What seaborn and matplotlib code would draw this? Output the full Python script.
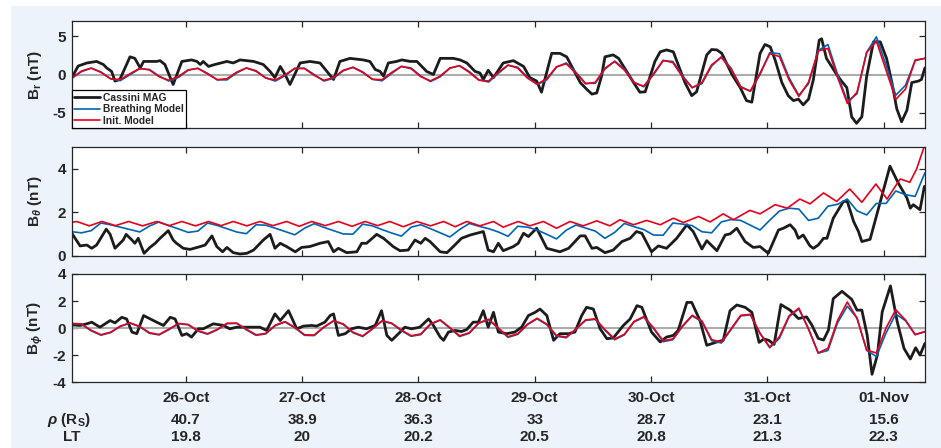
import numpy as np
import matplotlib
matplotlib.use("Agg")
import matplotlib.pyplot as plt
import matplotlib.transforms as mtransforms
from matplotlib.patches import Rectangle
import seaborn as sns

# time axis: hours since 25-Oct 00:00
DAY_TICKS = [24, 48, 72, 96, 120, 144, 168]
DAY_LABELS = ["26-Oct", "27-Oct", "28-Oct", "29-Oct", "30-Oct", "31-Oct", "01-Nov"]
RHO = ["40.7", "38.9", "36.3", "33", "28.7", "23.1", "15.6"]
LT = ["19.8", "20", "20.2", "20.5", "20.8", "21.3", "22.3"]

# model output, sampled every 2 h
MODEL_H = np.arange(0.5, 177.0, 2.0)

BR_INIT = [-0.43, 0.45, 0.84, 0.28, -0.57, -0.66, 0.10, 0.80, 0.59, -0.28,
           -0.75, -0.25, 0.61, 0.79, 0.07, -0.67, -0.55, 0.30, 0.85, 0.42,
           -0.45, -0.72, -0.04, 0.81, 0.77, -0.11, -0.76, -0.39, 0.55, 0.92,
           0.27, -0.62, -0.68, 0.27, 1.06, 0.75, -0.29, -0.83, -0.20, 0.85,
           1.13, 0.28, -0.75, -0.84, 0.28, 1.23, 0.83, -0.47, -1.26, -0.53,
           1.01, 1.40, 0.16, -1.21, -1.02, 0.83, 1.68, 0.58, -1.09, -1.52,
           0.09, 1.84, 1.55, -0.31, -1.73, -1.03, 1.26, 2.22, 0.66, -1.66,
           -2.14, 0.19, 2.71, 2.34, -0.72, -2.86, -1.00, 3.06, 3.39, -0.39,
           -3.76, -2.31, 2.88, 4.34, 0.55, -3.24, -1.90, 1.88, 2.10]
BR_BREATH = [-0.50, 0.38, 0.82, 0.34, -0.55, -0.80, -0.02, 0.75, 0.66, -0.20,
             -0.85, -0.38, 0.55, 0.82, 0.15, -0.70, -0.70, 0.20, 0.85, 0.50,
             -0.45, -0.85, -0.15, 0.78, 0.82, 0.00, -0.85, -0.50, 0.48, 0.95,
             0.35, -0.62, -0.82, 0.15, 1.05, 0.85, -0.20, -0.92, -0.30, 0.82,
             1.15, 0.38, -0.70, -0.98, 0.15, 1.20, 0.95, -0.35, -1.30, -0.70,
             0.95, 1.50, 0.30, -1.15, -1.15, 0.70, 1.75, 0.70, -1.00, -1.60,
             -0.05, 1.80, 1.70, -0.15, -1.70, -1.20, 1.10, 2.30, 0.85, -1.55,
             -2.20, 0.00, 2.85, 2.70, -0.45, -2.70, -1.20, 3.10, 3.90, 0.00,
             -3.50, -2.50, 2.90, 4.90, 1.20, -2.70, -1.40, 1.80, 2.10]

BT_BREATH = [1.10, 1.05, 1.15, 1.50, 1.42, 1.31, 1.20, 1.09, 1.36, 1.55,
             1.38, 1.23, 1.07, 1.13, 1.50, 1.39, 1.24, 1.09, 1.01, 1.42,
             1.40, 1.26, 1.11, 0.96, 1.26, 1.47, 1.30, 1.15, 1.00, 0.99,
             1.45, 1.37, 1.20, 1.04, 0.90, 1.31, 1.42, 1.24, 1.05, 0.86,
             1.20, 1.48, 1.35, 1.24, 1.09, 0.89, 1.35, 1.31, 1.18, 0.98,
             0.77, 1.17, 1.41, 1.27, 1.13, 0.80, 1.07, 1.48, 1.33, 1.20,
             0.95, 0.94, 1.50, 1.45, 1.38, 1.10, 1.05, 1.55, 1.66, 1.62,
             1.40, 1.18, 1.63, 2.05, 2.18, 2.14, 1.62, 1.72, 2.27, 2.36,
             2.60, 2.06, 1.87, 2.40, 2.40, 2.97, 2.80, 2.72, 3.80]

BP_INIT = [0.35, 0.31, -0.16, -0.49, -0.30, 0.15, 0.39, 0.13, -0.34, -0.47,
           -0.08, 0.35, 0.27, -0.19, -0.41, -0.09, 0.36, 0.37, -0.08, -0.49,
           -0.39, 0.23, 0.48, 0.06, -0.49, -0.51, 0.09, 0.55, 0.31, -0.30,
           -0.58, -0.04, 0.55, 0.37, -0.15, -0.56, -0.43, 0.32, 0.61, 0.04,
           -0.57, -0.34, 0.40, 0.66, 0.01, -0.63, -0.41, 0.29, 0.73, 0.29,
           -0.55, -0.66, -0.06, 0.61, 0.69, -0.11, -0.80, -0.45, 0.50, 0.85,
           0.03, -0.93, -0.80, 0.17, 0.95, 0.53, -0.85, -1.03, -0.06, 0.95,
           1.02, -0.40, -1.40, -0.62, 0.92, 1.48, -0.08, -1.83, -1.49, 0.58,
           1.93, 0.73, -1.62, -1.84, 0.02, 1.36, 0.60, -0.48, -0.27]
BP_BREATH = [0.33, 0.28, -0.20, -0.52, -0.33, 0.12, 0.37, 0.10, -0.38, -0.50,
             -0.12, 0.32, 0.25, -0.22, -0.45, -0.13, 0.33, 0.35, -0.12, -0.53,
             -0.43, 0.19, 0.45, 0.03, -0.53, -0.55, 0.05, 0.52, 0.28, -0.34,
             -0.62, -0.08, 0.52, 0.34, -0.19, -0.60, -0.48, 0.28, 0.58, 0.00,
             -0.62, -0.38, 0.36, 0.62, -0.03, -0.68, -0.46, 0.25, 0.69, 0.25,
             -0.60, -0.71, -0.10, 0.57, 0.65, -0.16, -0.86, -0.50, 0.45, 0.80,
             -0.02, -1.00, -0.86, 0.12, 0.90, 0.48, -0.92, -1.10, -0.12, 0.90,
             0.98, -0.38, -1.45, -0.75, 0.85, 1.42, -0.05, -1.85, -1.65, 0.40,
             1.62, 0.75, -1.65, -2.10, -0.35, 1.05, 0.55, -0.48, -0.25]

# initial model B_theta (turning points)
BT_INIT_H = [0.5, 1.5, 4.1, 6.7, 9.5, 12.2, 15.1, 18.0, 20.6, 23.2,
             26.0, 28.7, 31.3, 33.8, 36.6, 39.3, 42.0, 44.8, 47.4, 50.0,
             52.8, 55.5, 58.3, 61.0, 63.6, 66.1, 68.9, 71.7, 74.5, 77.2,
             79.6, 82.0, 84.7, 87.5, 89.5, 92.6, 95.0, 97.8, 100.5, 103.3,
             106.0, 108.8, 111.5, 113.6, 116.4, 119.1, 121.9, 124.6, 126.7, 129.8,
             132.2, 134.9, 137.0, 140.4, 142.5, 145.6, 148.1, 150.7, 152.8, 155.6,
             158.3, 161.0, 163.5, 166.4, 168.7, 171.4, 173.4, 174.8, 176.4]
BT_INIT = [1.53, 1.57, 1.37, 1.57, 1.38, 1.57, 1.37, 1.57, 1.38, 1.57,
           1.37, 1.57, 1.38, 1.57, 1.37, 1.57, 1.38, 1.57, 1.35, 1.57,
           1.38, 1.57, 1.35, 1.57, 1.38, 1.57, 1.33, 1.57, 1.37, 1.57,
           1.33, 1.57, 1.37, 1.57, 1.31, 1.57, 1.37, 1.57, 1.26, 1.57,
           1.37, 1.60, 1.37, 1.65, 1.42, 1.62, 1.42, 1.72, 1.52, 1.80,
           1.55, 1.92, 1.65, 2.08, 1.92, 2.34, 2.18, 2.60, 2.38, 2.88,
           2.49, 3.06, 2.45, 3.29, 2.60, 3.52, 3.37, 3.98, 5.03]

# Cassini MAG
BR_MAG_H = [0.5, 1.8, 3.6, 5.6, 7.0, 7.7, 8.7, 9.4, 10.4, 12.5,
            13.5, 14.6, 15.3, 18.0, 18.7, 19.7, 21.4, 23.2, 25.2, 26.3,
            27.0, 27.6, 28.7, 30.0, 32.5, 33.8, 35.2, 38.0, 40.0, 41.4,
            42.4, 43.5, 44.5, 45.5, 47.6, 49.6, 51.7, 53.4, 54.5, 55.8,
            57.9, 60.6, 62.0, 63.1, 64.1, 64.8, 65.8, 67.5, 68.6, 70.3,
            71.7, 73.7, 75.1, 76.5, 79.2, 80.6, 82.0, 83.7, 84.7, 85.4,
            86.4, 87.5, 89.5, 91.6, 93.7, 95.0, 96.4, 97.4, 99.5, 101.2,
            102.6, 105.4, 106.7, 107.8, 108.8, 109.8, 110.5, 112.2, 113.3, 116.4,
            117.7, 118.8, 120.8, 121.9, 123.2, 124.6, 127.0, 128.4, 129.4, 131.5,
            132.5, 133.6, 134.6, 136.7, 138.4, 139.7, 140.8, 142.5, 143.5, 144.6,
            145.6, 147.0, 148.3, 149.4, 150.4, 151.4, 152.5, 153.5, 154.7, 155.2,
            156.2, 158.3, 159.3, 160.4, 161.4, 162.4, 163.5, 164.5, 165.9, 167.3,
            168.6, 169.7, 170.7, 171.7, 172.8, 173.8, 175.2, 175.8, 176.5]
BR_MAG = [-0.4, 1.1, 1.5, 1.7, 1.3, 0.85, 0.4, -0.85, -0.65, 2.3,
          2.1, 0.85, 1.7, 1.7, 1.8, 1.3, -1.3, 1.7, 1.9, 1.7,
          1.3, 1.7, 1.05, 1.3, 1.7, 1.5, 1.9, 1.7, 1.3, 0.4,
          -0.4, 1.05, 0.0, -1.3, 1.5, 1.7, 1.5, 0.2, -0.65, 1.7,
          2.1, 1.9, 1.7, 0.65, 0.4, -0.2, 1.5, 1.7, 1.9, 1.7,
          1.7, 0.4, 0.0, 2.1, 2.1, 1.9, 1.5, 0.4, 0.2, -0.65,
          0.55, -0.4, 1.5, 1.8, 1.05, -0.4, -0.85, -2.3, 2.75, 2.75,
          2.3, -1.05, -1.9, -2.55, -2.4, -0.2, 2.3, 2.55, 2.1, -1.05,
          -2.3, -2.25, 1.7, 2.95, 3.2, 2.95, -1.05, -2.75, -2.25, 2.55,
          3.25, 3.2, 2.75, 0.0, -1.7, -3.4, -3.6, 2.75, 3.9, 3.6,
          1.9, -1.05, -2.75, -3.4, -3.2, -3.95, -3.2, -0.65, 4.45, 4.65,
          2.1, 0.0, -0.85, -1.7, -5.5, -6.35, -5.5, -0.2, 4.25, 4.25,
          2.1, -1.05, -4.45, -6.15, -4.65, -1.05, -0.85, -0.65, 0.85]

BT_MAG_H = [0.5, 2.2, 3.6, 4.6, 5.6, 7.6, 8.4, 9.4, 11.1, 11.7,
            12.9, 13.5, 14.2, 15.4, 16.6, 17.7, 18.7, 20.4, 21.4, 22.1,
            23.5, 24.9, 27.0, 28.0, 29.4, 30.4, 31.6, 32.5, 33.8, 35.2,
            36.6, 38.0, 40.0, 41.4, 42.4, 43.5, 44.8, 46.6, 47.9, 49.6,
            51.7, 53.4, 54.5, 55.5, 57.2, 59.3, 60.3, 61.3, 63.4, 64.8,
            66.8, 68.2, 69.9, 71.3, 72.5, 73.4, 74.4, 76.5, 77.9, 79.2,
            80.9, 82.7, 85.4, 86.4, 87.5, 88.5, 89.5, 91.6, 92.6, 93.7,
            94.7, 96.4, 98.5, 101.2, 103.0, 105.4, 106.4, 107.8, 108.8, 110.5,
            112.2, 114.0, 115.7, 117.0, 118.1, 120.1, 121.5, 123.2, 125.3, 127.4,
            128.7, 130.5, 131.5, 133.6, 135.3, 136.3, 137.7, 139.4, 141.1, 142.5,
            144.2, 146.3, 147.3, 148.7, 149.7, 150.4, 151.4, 152.8, 153.5, 154.5,
            155.6, 156.3, 157.6, 159.7, 160.5, 161.8, 162.8, 163.5, 165.2, 169.3,
            171.0, 172.8, 173.5, 174.1, 175.5, 176.4]
BT_MAG = [1.03, 0.45, 0.49, 0.34, 0.49, 1.22, 0.98, 0.34, 0.72, 0.98,
          0.72, 0.57, 0.80, 0.11, 0.38, 0.57, 0.80, 1.15, 0.72, 0.57,
          0.34, 0.29, 0.42, 0.49, 0.91, 0.42, 0.18, 0.38, 0.14, 0.08,
          0.11, 0.26, 0.72, 0.98, 0.34, 0.57, 0.42, 0.18, 0.38, 0.42,
          0.57, 0.65, 0.18, 0.34, 0.14, 0.18, 0.57, 0.57, 0.98, 0.80,
          0.42, 0.23, 0.26, 0.72, 0.57, 0.80, 0.65, 0.18, 0.14, 0.42,
          0.80, 0.95, 1.11, 0.26, 0.18, 0.57, 0.23, 0.42, 0.57, 1.03,
          0.88, 1.26, 0.34, 0.18, 0.34, 0.91, 0.91, 0.34, 0.38, 0.14,
          0.26, 0.65, 0.80, 1.11, 1.03, 0.18, 0.45, 0.34, 0.80, 1.42,
          1.11, 0.31, 0.69, 0.23, 0.95, 1.00, 1.26, 0.65, 0.38, 0.42,
          0.11, 1.18, 1.26, 1.42, 1.18, 0.80, 0.95, 0.45, 0.34, 0.49,
          0.80, 0.80, 1.72, 2.49, 2.49, 1.57, 1.11, 0.65, 0.75, 4.11,
          3.34, 2.65, 2.18, 2.34, 2.11, 3.18]

BP_MAG_H = [0.5, 2.2, 3.6, 4.6, 6.3, 8.4, 9.4, 10.8, 11.8, 12.9,
            13.9, 15.3, 18.0, 19.4, 20.8, 21.8, 23.2, 24.2, 25.2, 26.6,
            27.6, 29.7, 31.8, 33.1, 34.5, 36.6, 39.3, 40.7, 42.4, 43.5,
            45.2, 46.9, 48.3, 50.0, 51.0, 52.7, 53.8, 54.5, 55.5, 56.9,
            58.2, 59.6, 61.3, 63.1, 64.4, 65.5, 66.5, 67.9, 69.2, 70.6,
            72.3, 74.1, 75.1, 76.5, 77.2, 78.2, 79.6, 80.9, 82.0, 83.3,
            84.4, 85.4, 86.4, 87.5, 88.5, 90.2, 91.9, 93.3, 94.7, 96.1,
            97.1, 98.5, 99.9, 101.2, 103.0, 104.3, 105.7, 106.7, 108.1, 109.5,
            110.9, 112.2, 114.3, 115.7, 117.1, 118.1, 120.1, 121.9, 123.2, 124.6,
            125.6, 127.4, 128.4, 130.1, 131.5, 133.6, 134.9, 136.3, 137.7, 139.4,
            140.8, 142.3, 143.3, 144.3, 145.4, 146.8, 148.7, 150.4, 152.1, 153.2,
            154.5, 155.6, 156.6, 157.6, 159.4, 161.4, 162.5, 163.5, 164.6, 165.6,
            166.7, 167.7, 169.4, 170.8, 172.2, 173.5, 174.6, 175.5, 176.5]
BP_MAG = [0.24, 0.20, 0.32, 0.44, 0.07, 0.56, 0.39, 0.80, 0.68, -0.29,
          -0.41, 0.93, 0.44, 0.20, 0.80, 0.68, -0.54, -0.41, -0.66, -0.05,
          -0.05, 0.32, 0.20, -0.05, 0.07, 0.07, 0.07, -0.17, 1.05, 0.56,
          1.29, -0.05, 0.15, 0.20, 0.15, 0.44, 0.93, 1.05, -0.54, -0.41,
          -0.05, 0.07, -0.05, 0.20, 1.29, -0.54, -0.90, -0.41, 0.07, -0.05,
          0.07, 0.68, 0.20, -0.66, -0.90, -0.29, -0.17, -0.25, -0.10, 0.44,
          0.45, 1.29, 0.07, 1.17, -0.29, -0.41, -0.29, 0.07, 0.93, 1.17,
          1.41, 0.93, -0.90, -0.41, -0.41, -0.29, 0.93, 1.54, 1.41, -0.05,
          -0.78, -0.73, 0.20, 0.68, 1.66, 1.54, -0.29, -1.02, -0.66, -0.54,
          -0.17, 1.90, 1.90, 0.56, -1.27, -1.02, -0.90, 1.29, 1.71, 1.54,
          1.17, -1.05, -0.80, -0.90, -1.20, 1.74, 1.33, 0.71, 0.83, 0.22,
          -0.76, -0.88, -0.15, 2.18, 2.72, 2.13, 1.33, 1.33, -0.52, -3.41,
          -1.99, 1.20, 3.12, 0.47, -1.50, -2.28, -1.45, -1.99, -1.13]

MAG_COLOR = "#1c1c1c"
BREATH_COLOR = "#0064b4"
INIT_COLOR = "#e5001c"

sns.set_theme(style="ticks")
plt.rcParams["font.family"] = ["Liberation Sans", "DejaVu Sans"]
plt.rcParams["font.weight"] = "bold"
plt.rcParams["axes.unicode_minus"] = False
plt.rcParams["mathtext.fontset"] = "custom"
plt.rcParams["mathtext.rm"] = "Liberation Sans:bold"
plt.rcParams["mathtext.bf"] = "Liberation Sans:bold"
plt.rcParams["mathtext.it"] = "Liberation Sans:italic:bold"

fig = plt.figure(figsize=(9.41, 4.48), dpi=100)
fig.patch.set_facecolor("white")
fig.add_artist(Rectangle((11 / 941, 0), 1, 442 / 448, transform=fig.transFigure,
                         facecolor="#edf3fb", edgecolor="none", zorder=-10))

panels = [
    dict(pos=[0.0762, 0.7136, 0.9068, 0.2402], mag_h=BR_MAG_H, mag=BR_MAG,
         br_h=MODEL_H, br=BR_BREATH, in_h=MODEL_H, init=BR_INIT,
         ylim=(-7, 7), yticks=[-5, 0, 5], zero=True,
         ylabel=r"$\mathbf{B}_{\mathbf{r}}$ (nT)"),
    dict(pos=[0.0762, 0.4292, 0.9068, 0.2433], mag_h=BT_MAG_H, mag=BT_MAG,
         br_h=MODEL_H, br=BT_BREATH, in_h=BT_INIT_H, init=BT_INIT,
         ylim=(0, 5), yticks=[0, 2, 4], zero=False,
         ylabel=r"$\mathbf{B}_{\theta}$ (nT)"),
    dict(pos=[0.0762, 0.1467, 0.9068, 0.2417], mag_h=BP_MAG_H, mag=BP_MAG,
         br_h=MODEL_H, br=BP_BREATH, in_h=MODEL_H, init=BP_INIT,
         ylim=(-4, 4), yticks=[-4, -2, 0, 2, 4], zero=True,
         ylabel=r"$\mathbf{B}_{\phi}$ (nT)"),
]

axes = []
for i, p in enumerate(panels):
    ax = fig.add_axes(p["pos"])
    ax.set_facecolor("white")
    if p["zero"]:
        ax.axhline(0, color="#adadad", linewidth=1.5, zorder=1)
    sns.lineplot(x=p["mag_h"], y=p["mag"], ax=ax, color=MAG_COLOR, linewidth=2.0,
                 estimator=None, sort=False, label="Cassini MAG")
    sns.lineplot(x=p["br_h"], y=p["br"], ax=ax, color=BREATH_COLOR, linewidth=1.2,
                 estimator=None, sort=False, label="Breathing Model")
    sns.lineplot(x=p["in_h"], y=p["init"], ax=ax, color=INIT_COLOR, linewidth=1.2,
                 estimator=None, sort=False, label="Init. Model")

    ax.set_xlim(0.47, 176.53)
    ax.set_ylim(*p["ylim"])
    ax.set_yticks(p["yticks"])
    ax.set_xticks(DAY_TICKS)
    ax.set_xlabel("")
    ax.set_ylabel("")
    ax.tick_params(direction="in", top=True, right=True, length=4.5, width=0.9,
                   color="#262626", labelsize=11, pad=4)
    ax.tick_params(axis="x", pad=6)
    for s in ax.spines.values():
        s.set_color("#262626")
        s.set_linewidth(0.9)
    if i < 2:
        ax.set_xticklabels([])
    else:
        ax.set_xticklabels(DAY_LABELS, fontweight="bold")
    for lab in ax.get_yticklabels():
        lab.set_fontweight("bold")
    ax.text(-0.043, 0.5, p["ylabel"], transform=ax.transAxes, rotation=90,
            ha="center", va="center", fontsize=11, fontweight="bold")

    if i == 0:
        leg = ax.legend(loc="lower left", borderaxespad=0, fancybox=False,
                        edgecolor="black", framealpha=1, handlelength=2.5,
                        labelspacing=0.15, borderpad=0.25, handletextpad=0.3,
                        prop={"size": 7.4, "weight": "bold"})
        leg.get_frame().set_linewidth(0.9)
    else:
        ax.get_legend().remove()
    axes.append(ax)

# spacecraft position rows under the bottom axis
trans = mtransforms.blended_transform_factory(axes[2].transData, fig.transFigure)
for x, r, t in zip(DAY_TICKS, RHO, LT):
    fig.text(x, 0.0625, r, transform=trans, ha="center", va="center",
             fontsize=11, fontweight="bold")
    fig.text(x, 0.0246, t, transform=trans, ha="center", va="center",
             fontsize=11, fontweight="bold")
fig.text(0.0728, 0.0625, r"$\rho$ (R$_{\mathbf{S}}$)", ha="center", va="center",
         fontsize=11, fontweight="bold")
fig.text(0.0760, 0.0246, "LT", ha="center", va="center", fontsize=11, fontweight="bold")

fig.savefig("out.png", dpi=100, facecolor=fig.get_facecolor())
